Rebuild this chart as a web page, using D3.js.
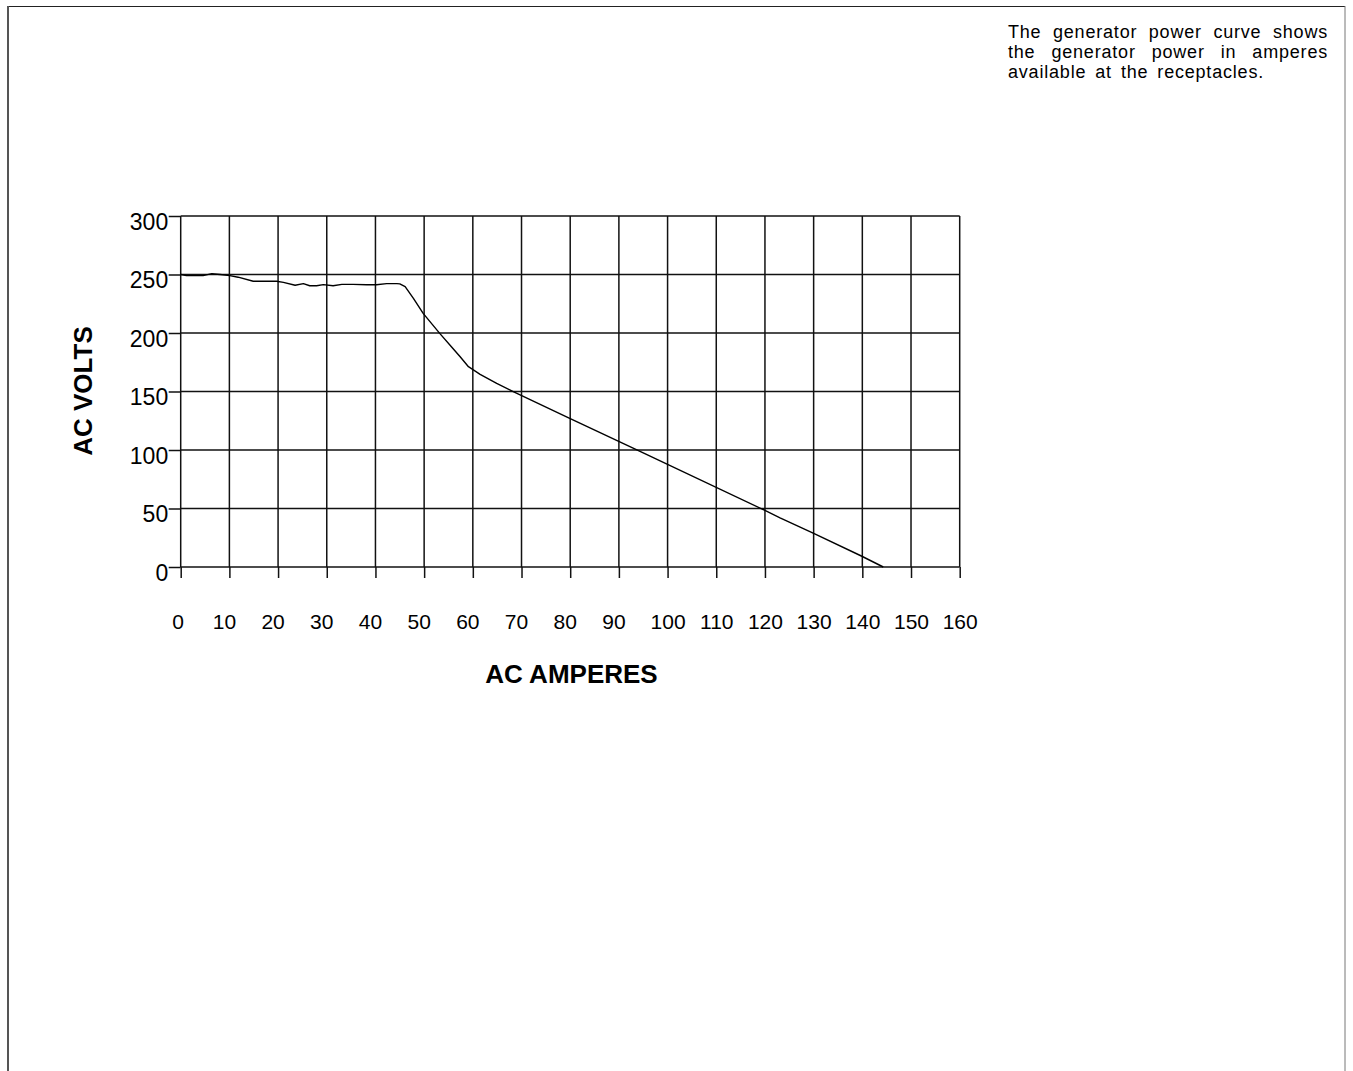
<!DOCTYPE html>
<html>
<head>
<meta charset="utf-8">
<script src="https://cdn.jsdelivr.net/npm/d3@7"></script>
<style>
  html, body { margin: 0; padding: 0; background: #fff; }
  svg { display: block; font-family: "Liberation Sans", Arial, Helvetica, sans-serif; }
</style>
</head>
<body>
<svg id="chart" width="1353" height="1071"></svg>
<script>
// Generator output: AC volts versus AC amperes at the receptacles
const amps  = [0, 1.2, 4.6, 6.4, 8.1, 10.1, 11.8, 14.9, 19.7, 21.1, 23.5, 25.2, 26.5, 27.9, 29.3,
               31.3, 33.1, 35.4, 38.2, 40.2, 42.3, 44.4, 45.0, 46.1, 47.8, 49.8, 53.2, 55.6, 57.4,
               59.1, 61.5, 64.9, 68.3, 79.9, 95, 120, 123.1, 129.9, 139.8, 144.3];
const volts = [250, 249, 249, 250.7, 250, 249, 247.7, 244.2, 244.2, 243.3, 240.8, 242.2, 240.4, 240.4, 241.3,
               240.4, 241.6, 241.6, 241.3, 241.3, 242.2, 242.2, 242, 239.6, 229.6, 216.8, 199.7, 188.3, 179.7,
               171.2, 164.7, 157, 149.8, 127.1, 97.5, 48.4, 42, 29, 9.4, 0];

const xTicks = d3.range(0, 161, 10);
const yTicks = [0, 50, 100, 150, 200, 250, 300];
const xTitle = "AC AMPERES";
const yTitle = "AC VOLTS";
const noteLines = [
  "The generator power curve shows",
  "the generator power in amperes",
  "available at the receptacles."
];

const svg = d3.select("#chart");

// Page frame
const frame = svg.append("g");
frame.append("line").attr("x1", 7).attr("x2", 1345).attr("y1", 6.5).attr("y2", 6.5)
  .attr("stroke", "#222").attr("stroke-width", 1.2);
frame.append("line").attr("x1", 8).attr("x2", 8).attr("y1", 6).attr("y2", 1071)
  .attr("stroke", "#555").attr("stroke-width", 2);
frame.append("line").attr("x1", 1345).attr("x2", 1345).attr("y1", 6).attr("y2", 1071)
  .attr("stroke", "#777").attr("stroke-width", 1);

// Plot area
const plotLeft = 180.7, plotRight = 959.7, plotTop = 216, plotBottom = 567;
const x = d3.scaleLinear().domain([0, 160]).range([plotLeft, plotRight]);
const y = d3.scaleLinear().domain([0, 300]).range([plotBottom, plotTop]);

const grid = svg.append("g").attr("stroke", "#111").attr("stroke-width", 1.5);
grid.selectAll("line.v").data(xTicks).join("line").attr("class", "v")
  .attr("x1", d => x(d)).attr("x2", d => x(d)).attr("y1", y(300)).attr("y2", y(0));
grid.selectAll("line.h").data(yTicks).join("line").attr("class", "h")
  .attr("x1", x(0)).attr("x2", x(160)).attr("y1", d => y(d)).attr("y2", d => y(d));

// X axis ticks and labels
const xAxis = svg.append("g").attr("transform", `translate(0,${plotBottom})`)
  .call(d3.axisBottom(x).tickValues(xTicks).tickSize(11).tickSizeOuter(0));
xAxis.select(".domain").remove();
xAxis.selectAll(".tick line").attr("stroke", "#111").attr("stroke-width", 1.5);
xAxis.selectAll(".tick text")
  .attr("fill", "#000").attr("font-size", 21)
  .attr("dy", null).attr("y", 62)
  .attr("dx", d => d === 0 ? -3 : d < 100 ? -5.5 : 0)
  .text(d => d);

// Y axis ticks and labels
const yAxis = svg.append("g").attr("transform", `translate(${plotLeft},0)`)
  .call(d3.axisLeft(y).tickValues(yTicks).tickSize(12).tickSizeOuter(0));
yAxis.select(".domain").remove();
yAxis.selectAll(".tick line").attr("stroke", "#111").attr("stroke-width", 1.5);
yAxis.selectAll(".tick text")
  .attr("fill", "#000").attr("font-size", 23)
  .attr("dy", null).attr("y", 13).attr("x", -12.5)
  .text(d => d);

// Axis titles
svg.append("text").attr("x", 571.5).attr("y", 683)
  .attr("text-anchor", "middle").attr("font-weight", "bold").attr("font-size", 26)
  .text(xTitle);
svg.append("text").attr("transform", "translate(92,391) rotate(-90)")
  .attr("text-anchor", "middle").attr("font-weight", "bold").attr("font-size", 26)
  .text(yTitle);

// Power curve
const line = d3.line().x((d, i) => x(amps[i])).y(d => y(d));
svg.append("path").datum(volts).attr("d", line)
  .attr("fill", "none").attr("stroke", "#000").attr("stroke-width", 1.4)
  .attr("stroke-linejoin", "round");

// Note block: justified lines, the last one set to its own natural width
const noteX = 1008, noteSize = 18, noteLead = 20;
const lineWidths = [320, 320, 256];
const note = svg.append("g").attr("font-size", noteSize).attr("fill", "#000")
  .attr("letter-spacing", 0.8);
noteLines.forEach((txt, i) => {
  const t = note.append("text").attr("x", noteX).attr("y", 37.7 + i * noteLead).text(txt);
  const gaps = txt.split(" ").length - 1;
  const extra = (lineWidths[i] - t.node().getComputedTextLength()) / gaps;
  t.attr("word-spacing", extra);
});
</script>
</body>
</html>
